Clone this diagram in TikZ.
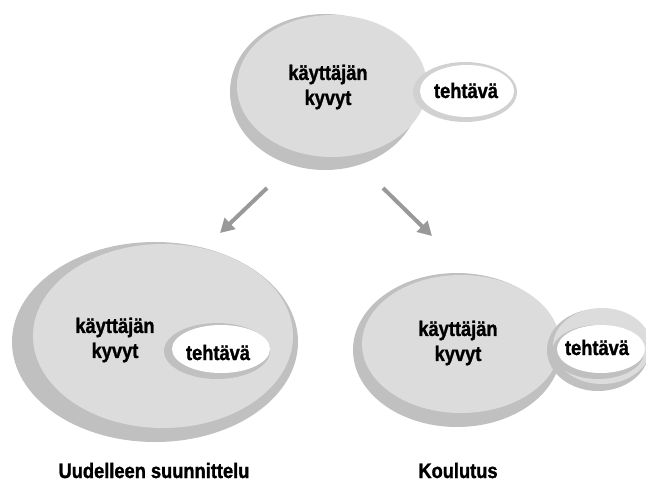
\documentclass[tikz,border=0pt]{standalone}
\usepackage{fontspec}
\usetikzlibrary{shapes.geometric,arrows.meta}
\newfontfamily\lblfont{Liberation Sans Bold}[FakeStretch=0.87, FakeBold=1.3]
\definecolor{lightfill}{gray}{0.863}
\definecolor{shadowfill}{gray}{0.753}
\definecolor{ringgray}{gray}{0.82}
\definecolor{arrowgray}{gray}{0.60}
\tikzset{
  blob/.style={ellipse, inner sep=0pt, draw=none},
  lbl/.style={font=\lblfont\fontsize{21}{25}\selectfont, align=center, text=black, inner sep=0pt},
  flow/.style={draw=arrowgray, line width=4pt, -{Triangle[length=14pt,width=15pt]}},
}
\begin{document}
\begin{tikzpicture}[x=1pt,y=-1pt]
\useasboundingbox (0,0) rectangle (646,485);
\clip (0,0) rectangle (646,485);
\fill[white] (0,0) rectangle (646,485);
% top
\node[blob, fill=shadowfill, minimum width=190pt, minimum height=156pt] (topS) at (325,92) {};
\node[blob, fill=lightfill, minimum width=190pt, minimum height=142pt] (topL) at (332,86) {};
\node[blob, fill=ringgray, minimum width=104pt, minimum height=60pt] (topTR) at (465,92) {};
\node[blob, fill=white, minimum width=94pt, minimum height=52pt] (topT) at (467,91) {};
\node[lbl] (topK) at (328,87) {käyttäjän\\kyvyt};
\node[lbl, anchor=base] (topTx) at (466,98) {tehtävä};
% arrows
\coordinate (a1s) at (267,188);
\coordinate (a1e) at (220,233);
\coordinate (a2s) at (383,188);
\coordinate (a2e) at (432,236);
\draw[flow] (a1s) -- (a1e);
\draw[flow] (a2s) -- (a2e);
% bottom left
\node[blob, fill=shadowfill, minimum width=286pt, minimum height=200pt] (blS) at (155,342) {};
\node[blob, fill=lightfill, minimum width=260pt, minimum height=184pt] (blL) at (163,336) {};
\node[blob, fill=shadowfill, minimum width=106pt, minimum height=56pt] (blTS) at (217,351) {};
\node[blob, fill=white, minimum width=98pt, minimum height=48pt] (blT) at (221,349) {};
\node[lbl] (blK) at (115,340) {käyttäjän\\kyvyt};
\node[lbl, anchor=base] (blTx) at (218,360) {tehtävä};
% bottom right
\node[blob, fill=shadowfill, minimum width=208pt, minimum height=154pt] (brS) at (457,350) {};
\node[blob, fill=lightfill, minimum width=198pt, minimum height=138pt] (brL) at (461,344) {};
\node[blob, fill=shadowfill, minimum width=102pt, minimum height=82pt] (brOS) at (598,350) {};
\node[blob, fill=lightfill, minimum width=98pt, minimum height=76pt] (brO) at (602,346) {};
\node[blob, fill=shadowfill, minimum width=92pt, minimum height=54pt] (brTS) at (598,352) {};
\node[blob, fill=white, minimum width=88pt, minimum height=48pt] (brT) at (601,349) {};
\node[lbl] (brK) at (458,343) {käyttäjän\\kyvyt};
\node[lbl, anchor=base] (brTx) at (597,355) {tehtävä};
% captions
\node[lbl, anchor=base] (cap1) at (154,478) {Uudelleen suunnittelu};
\node[lbl, anchor=base] (cap2) at (458,478) {Koulutus};
\end{tikzpicture}
\end{document}
